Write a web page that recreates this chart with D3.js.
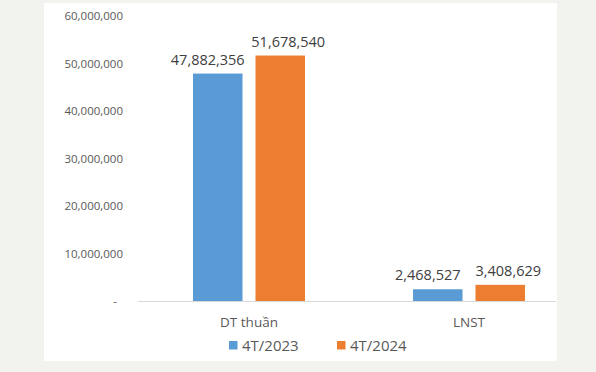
<!DOCTYPE html>
<html><head><meta charset="utf-8">
<script src="https://cdn.jsdelivr.net/npm/d3@7/dist/d3.min.js"></script>
<style>
html,body{margin:0;padding:0;background:#f2f2ee;}
svg{display:block;}
</style></head>
<body>
<script>
const categories = ["DT thuần", "LNST"];
const seriesNames = ["4T/2023", "4T/2024"];
const values2023 = [47882356, 2468527];
const values2024 = [51678540, 3408629];
const tickValues = [0, 10000000, 20000000, 30000000, 40000000, 50000000, 60000000];
const colors = ["#5b9bd5", "#ed7d31"];

const W = 596, H = 372;
const svg = d3.select("body").append("svg").attr("width", W).attr("height", H);
svg.append("rect").attr("width", W).attr("height", H).attr("fill", "#f2f2ee");
svg.append("rect").attr("x", 44).attr("y", 3).attr("width", 513).attr("height", 358).attr("fill", "#ffffff");

const font = "'Open Sans', 'Noto Sans', sans-serif";
const y = d3.scaleLinear().domain([0, 60000000]).range([301, 16]);
const x0 = d3.scaleBand().domain(categories).range([139, 579]).padding(0);
const x1 = d3.scaleBand().domain(seriesNames).range([-56, 56]).paddingInner(0.208).paddingOuter(0);

// y axis labels
const fmt = d3.format(",");
const yAxis = d3.axisLeft(y).tickValues(tickValues).tickSize(0).tickPadding(0)
  .tickFormat(d => d === 0 ? "-" : fmt(d));
const ya = svg.append("g").attr("transform", "translate(123,0)").call(yAxis);
ya.select(".domain").remove();
ya.selectAll("text").attr("font-family", font).attr("font-size", "11.5px").attr("fill", "#595959")
  .attr("dx", d => d === 0 ? -6 : 0);

// x axis line
svg.append("line").attr("x1", 138).attr("x2", 556).attr("y1", y(0) + 0.5).attr("y2", y(0) + 0.5)
  .attr("stroke", "#d9d9d9").attr("stroke-width", 1);

// category labels
const xAxis = d3.axisBottom(x0).tickSize(0).tickPadding(0);
const xa = svg.append("g").attr("transform", "translate(0,317)").call(xAxis);
xa.select(".domain").remove();
xa.selectAll("text").attr("font-family", font).attr("font-size", "13.5px").attr("fill", "#595959");

const data = categories.map((c, i) => ({cat: c, vals: [values2023[i], values2024[i]]}));
const labelDx = [-10, 8];

const groups = svg.selectAll("g.grp").data(data).enter().append("g").attr("class", "grp")
  .attr("transform", d => `translate(${x0(d.cat) + x0.bandwidth() / 2},0)`);

groups.selectAll("rect").data(d => d.vals.map((v, j) => ({s: seriesNames[j], v, j})))
  .enter().append("rect")
  .attr("x", d => x1(d.s)).attr("width", x1.bandwidth())
  .attr("y", d => y(d.v)).attr("height", d => y(0) - y(d.v))
  .attr("fill", d => colors[d.j]);

groups.selectAll("text.lbl").data(d => d.vals.map((v, j) => ({s: seriesNames[j], v, j})))
  .enter().append("text").attr("class", "lbl")
  .attr("x", d => x1(d.s) + x1.bandwidth() / 2 + labelDx[d.j])
  .attr("y", d => y(d.v) - 9)
  .attr("text-anchor", "middle")
  .attr("font-family", font).attr("font-size", "14.5px").attr("fill", "#404040")
  .text(d => fmt(d.v));

// legend
const legend = svg.append("g");
const legX = [229, 337];
seriesNames.forEach((s, j) => {
  legend.append("rect").attr("x", legX[j]).attr("y", 341).attr("width", 8.5).attr("height", 8.5).attr("fill", colors[j]);
  legend.append("text").attr("x", legX[j] + 13).attr("y", 351).attr("font-family", font)
    .attr("font-size", "15px").attr("fill", "#595959").text(s);
});
</script>
</body></html>
